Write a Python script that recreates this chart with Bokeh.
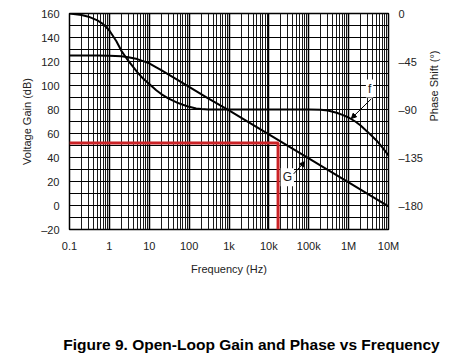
import math
from bokeh.plotting import figure
from bokeh.layouts import column
from bokeh.models import (Range1d, LinearAxis, FixedTicker, Label, Arrow,
                          NormalHead)
from bokeh.embed import file_html
from bokeh.resources import INLINE

# ---- data ----
freq_gain = [0.1, 0.5, 1, 2, 3, 5, 7, 10, 15, 20, 30, 50, 100, 300,
             1e3, 3e3, 1e4, 3e4, 1e5, 3e5, 1e6, 3e6, 1e7]
gain_db = [125, 125, 124.8, 124.3, 123.6, 122, 120.3, 118.5, 115.2, 112.8,
           109.3, 104.9, 98.9, 89.3, 79.2, 69.6, 59.2, 49.6, 39.2, 29.6,
           19.2, 9.6, -0.8]

freq_phase = [0.1, 0.2, 0.3, 0.5, 0.7, 1, 1.5, 2, 3, 5, 7, 10, 15, 20, 30,
              50, 70, 100, 150, 200, 300, 1e3, 1e4, 5e4, 1e5, 2e5, 3e5, 5e5,
              7e5, 1e6, 1.5e6, 2e6, 3e6, 5e6, 7e6, 1e7]
phase_deg = [0, -1.5, -3, -6.5, -10, -16, -26, -35, -44.5, -55, -61, -66,
             -72, -75.5, -79.5, -83.5, -85.5, -87.5, -89, -89.6, -90, -90,
             -90, -90, -90, -90.3, -91, -93, -95, -97.5, -101.5, -105, -111,
             -119, -125.5, -133]

red_freq = [0.1, 17000, 17000]
red_gain = [52, 52, -20]

x_ticks = [0.1, 1, 10, 100, 1e3, 1e4, 1e5, 1e6, 1e7]
x_tick_labels = ["0.1", "1", "10", "100", "1k", "10k", "100k", "1M", "10M"]
gain_ticks = [-20, 0, 20, 40, 60, 80, 100, 120, 140, 160]
gain_tick_labels = ["\u201320", "0", "20", "40", "60", "80", "100", "120", "140", "160"]
phase_ticks = [0, -45, -90, -135, -180]
phase_tick_labels = ["0", "\u201345", "\u201390", "\u2013135", "\u2013180"]

FONT = "Liberation Sans"
TXT = "#222222"


def bare(fig):
    fig.outline_line_color = None
    for g in fig.grid:
        g.visible = False
    if hasattr(fig, "frame_align"):
        fig.frame_align = False


# ---- thin top rule (a 1 px gray frame) ----
p0 = figure(width=463, height=5, x_range=Range1d(0, 1), y_range=Range1d(0, 1),
            x_axis_location=None, y_axis_location=None,
            min_border_left=0, min_border_right=0,
            min_border_top=3, min_border_bottom=1,
            output_backend="svg", toolbar_location=None)
bare(p0)
p0.background_fill_color = "#9a9a9a"
p0.border_fill_color = "white"

# ---- main chart ----
p = figure(width=463, height=295, x_axis_type="log",
           x_range=Range1d(0.1, 1e7), y_range=Range1d(-20, 160),
           output_backend="svg", toolbar_location=None,
           min_border_left=69, min_border_right=75,
           min_border_top=8, min_border_bottom=71)
if hasattr(p, "frame_align"):
    p.frame_align = False
p.background_fill_color = "white"
p.border_fill_color = "white"
p.outline_line_color = "black"
p.outline_line_width = 1.5

minor_x = [m * 10.0 ** e for e in range(-1, 7) for m in range(2, 10)]
xax = p.xaxis[0]
lax = p.yaxis[0]
xax.ticker = FixedTicker(ticks=x_ticks, minor_ticks=minor_x)
xax.major_label_overrides = dict(zip(x_ticks, x_tick_labels))
lax.ticker = FixedTicker(ticks=gain_ticks,
                         minor_ticks=[v + 10 for v in gain_ticks[:-1]])
lax.major_label_overrides = dict(zip(gain_ticks, gain_tick_labels))
xax.axis_label = "Frequency (Hz)"
lax.axis_label = "Voltage Gain (dB)"

p.xgrid.grid_line_color = "black"
p.xgrid.grid_line_width = 1.5
p.xgrid.minor_grid_line_color = "#1a1a1a"
p.xgrid.minor_grid_line_width = 1
p.ygrid.grid_line_color = "black"
p.ygrid.minor_grid_line_color = "black"
p.ygrid.grid_line_width = 1
p.ygrid.minor_grid_line_width = 1

p.extra_y_ranges = {"phase": Range1d(-202.5, 0)}
rax = LinearAxis(y_range_name="phase",
                 ticker=FixedTicker(ticks=phase_ticks),
                 axis_label="Phase Shift (\u00b0)")
rax.major_label_overrides = dict(zip(phase_ticks, phase_tick_labels))
p.add_layout(rax, "right")
if hasattr(rax, "axis_label_orientation"):
    rax.axis_label_orientation = math.pi / 2

for ax in [xax, lax, rax]:
    ax.axis_line_color = None
    ax.major_tick_line_color = None
    ax.minor_tick_line_color = None
    ax.major_tick_out = 0
    ax.major_tick_in = 0
    ax.minor_tick_out = 0
    ax.major_label_text_font = FONT
    ax.major_label_text_font_size = "11px"
    ax.major_label_text_color = TXT
    ax.axis_label_text_font = FONT
    ax.axis_label_text_font_size = "11px"
    ax.axis_label_text_font_style = "normal"
    ax.axis_label_text_color = TXT
    ax.major_label_standoff = 10
    ax.axis_label_standoff = 8

lax.axis_label_standoff = 5

p.line(freq_gain, gain_db, line_color="black", line_width=2)
p.line(freq_phase, phase_deg, y_range_name="phase", line_color="black",
       line_width=2)
p.line(red_freq, red_gain, line_color="#cc2226", line_width=3)

p.add_layout(Label(x=29000, y=23.6, text="G", text_align="center",
                   text_baseline="middle", text_font=FONT,
                   text_font_size="12px", text_color=TXT,
                   background_fill_color="white", padding=2))
p.add_layout(Label(x=3.35e6, y=97.5, text="f", text_align="center",
                   text_baseline="middle", text_font=FONT,
                   text_font_size="12px", text_color=TXT,
                   background_fill_color="white", padding=2))
p.add_layout(Arrow(end=NormalHead(size=5, fill_color="black",
                                  line_color="black"),
                   x_start=42000, y_start=26.4, x_end=79000, y_end=36.5,
                   line_width=1, line_color="black"))
p.add_layout(Arrow(end=NormalHead(size=5, fill_color="black",
                                  line_color="black"),
                   x_start=3.7e6, y_start=88.9, x_end=1.17e6, y_end=72.5,
                   line_width=1, line_color="black"))

# ---- caption ----
p2 = figure(width=463, height=53, x_range=Range1d(0, 463),
            y_range=Range1d(0, 53), x_axis_location=None,
            y_axis_location=None, min_border=0,
            output_backend="svg", toolbar_location=None)
bare(p2)
p2.add_layout(Label(x=251, y=9,
                    text="Figure 9. Open-Loop Gain and Phase vs Frequency",
                    text_align="center", text_baseline="middle",
                    text_font=FONT, text_font_size="15.5px",
                    text_font_style="bold", text_color="black"))

layout = column(p0, p, p2, spacing=0)
open("out.html", "w").write(file_html(layout, INLINE))
